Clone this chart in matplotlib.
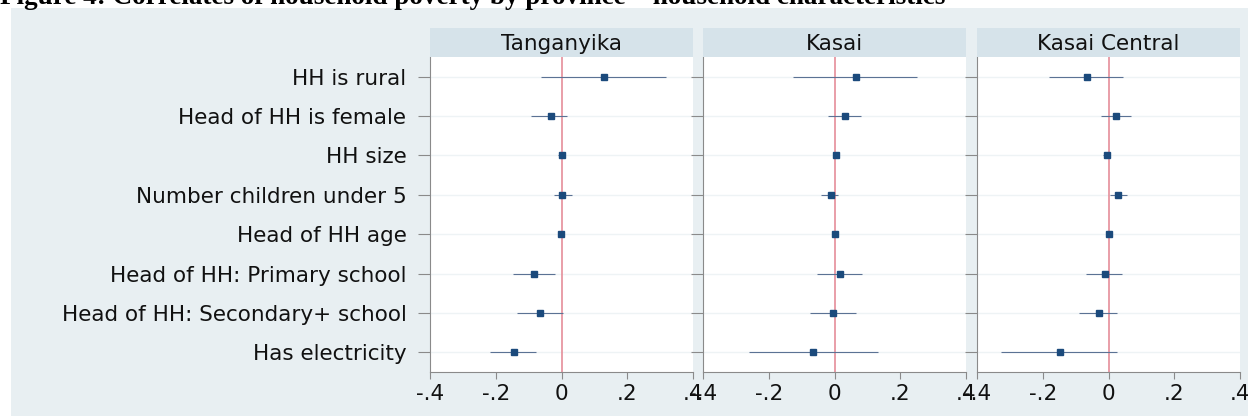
import numpy as np
import matplotlib.pyplot as plt
from matplotlib.patches import Rectangle

variables = ["HH is rural", "Head of HH is female", "HH size", "Number children under 5",
             "Head of HH age", "Head of HH: Primary school", "Head of HH: Secondary+ school",
             "Has electricity"]
provinces = ["Tanganyika", "Kasai", "Kasai Central"]

# point estimates and 95% CI (low, high) per province
tang_est = [0.130, -0.033, 0.003, 0.003, -0.001, -0.084, -0.064, -0.145]
tang_lo = [-0.063, -0.093, -0.011, -0.024, -0.003, -0.148, -0.136, -0.218]
tang_hi = [0.319, 0.018, 0.011, 0.033, 0.001, -0.021, 0.004, -0.079]

kasai_est = [0.065, 0.033, 0.006, -0.011, 0.000, 0.017, -0.006, -0.064]
kasai_lo = [-0.125, -0.019, -0.002, -0.041, -0.002, -0.052, -0.076, -0.261]
kasai_hi = [0.252, 0.081, 0.013, 0.012, 0.002, 0.084, 0.065, 0.131]

kc_est = [-0.066, 0.024, -0.005, 0.030, 0.000, -0.011, -0.030, -0.149]
kc_lo = [-0.181, -0.022, -0.016, 0.006, -0.002, -0.067, -0.089, -0.327]
kc_hi = [0.045, 0.067, 0.004, 0.055, 0.002, 0.041, 0.027, 0.027]

xticks = [-0.4, -0.2, 0, 0.2, 0.4]
xticklabels = ["-.4", "-.2", "0", ".2", ".4"]

est = [tang_est, kasai_est, kc_est]
lo = [tang_lo, kasai_lo, kc_lo]
hi = [tang_hi, kasai_hi, kc_hi]

W, H = 1248, 416
bg = "#e8eff2"
strip_c = "#d6e3ea"
plt.rcParams['font.family'] = ['DejaVu Sans']

fig = plt.figure(figsize=(W / 100, H / 100), dpi=100)
fig.patch.set_facecolor("white")
fig.add_artist(Rectangle((11 / W, 0), 1 - 11 / W, (H - 8) / H, transform=fig.transFigure,
                         facecolor=bg, edgecolor="none", zorder=0))
fig.text(0, 1 - 4 / H, "Figure 4: Correlates of household poverty by province \u2013 household characteristics",
         family="Liberation Serif", fontweight="bold", fontsize=19.5, va="baseline", ha="left")

lefts = [430, 703, 977]
pw = 263
top, bottom = 57, 372
ypos = np.arange(len(variables))

for i, name in enumerate(provinces):
    ax = fig.add_axes([lefts[i] / W, (H - bottom) / H, pw / W, (bottom - top) / H])
    ax.set_facecolor("white")
    for yy in ypos:
        ax.axhline(yy, color="#eef3f5", lw=1, zorder=1)
    ax.axvline(0, color="#e58e99", lw=1.2, zorder=2)
    ax.hlines(ypos, lo[i], hi[i], color="#5b7294", lw=0.8, zorder=3)
    ax.plot(est[i], ypos, ls="none", marker="s", ms=4.5, color="#1b4a7c", zorder=4)
    ax.set_xlim(-0.4, 0.4)
    ax.set_ylim(len(variables) - 0.5, -0.5)
    ax.set_xticks(xticks)
    ax.set_xticklabels(xticklabels)
    ax.set_yticks(ypos)
    if i == 0:
        ax.set_yticklabels(variables)
    else:
        ax.set_yticklabels([])
    for s in ["top", "right"]:
        ax.spines[s].set_visible(False)
    for s in ["left", "bottom"]:
        ax.spines[s].set_color("#8a8a8a")
        ax.spines[s].set_linewidth(0.8)
    ax.tick_params(axis="both", colors="#8a8a8a", labelcolor="#111111", labelsize=15.5, width=0.8)
    ax.tick_params(axis="y", length=9, pad=8)
    ax.tick_params(axis="x", length=5, pad=4)

    sax = fig.add_axes([lefts[i] / W, (H - top) / H, pw / W, 29 / H])
    sax.set_facecolor(strip_c)
    sax.set_xticks([])
    sax.set_yticks([])
    for s in sax.spines.values():
        s.set_visible(False)
    sax.text(0.5, 0.45, name, ha="center", va="center", fontsize=15.5, color="#111111",
             transform=sax.transAxes)

fig.savefig("out.png", dpi=100)
